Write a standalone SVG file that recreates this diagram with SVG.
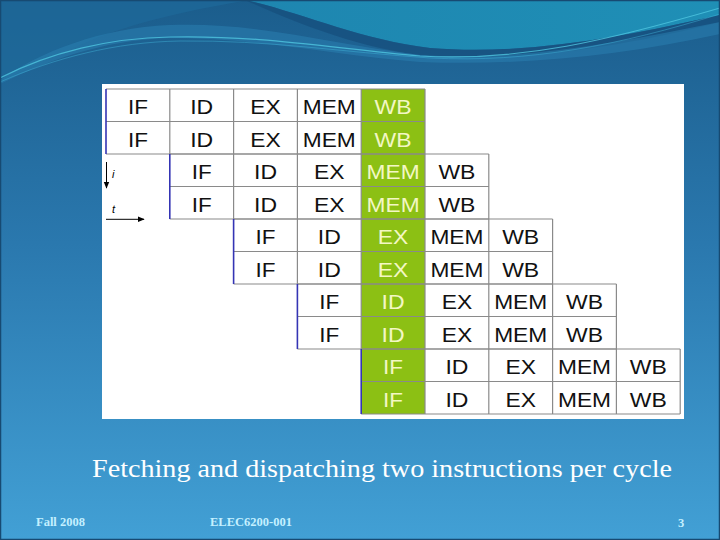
<svg xmlns="http://www.w3.org/2000/svg" width="720" height="540" viewBox="0 0 720 540">
<defs>
<linearGradient id="bg" x1="0" y1="0" x2="0" y2="1">
<stop offset="0" stop-color="#1b5d8c"/>
<stop offset="0.45" stop-color="#2a78ae"/>
<stop offset="1" stop-color="#42a0d5"/>
</linearGradient>
<linearGradient id="teal" x1="0" y1="0" x2="1" y2="0">
<stop offset="0" stop-color="#1e86b0"/>
<stop offset="1" stop-color="#1f8fb6"/>
</linearGradient>
<marker id="ah" viewBox="0 0 10 10" refX="9" refY="5" markerWidth="7" markerHeight="7" orient="auto" markerUnits="userSpaceOnUse">
<path d="M0,1 L10,5 L0,9 Z" fill="#000"/>
</marker>
<style>
.cell{font-family:"Liberation Sans",Arial,sans-serif;font-size:21px;text-anchor:middle;fill:#111}
.g{fill:#f3f7c4}
.ln{stroke:#8a8a8a;stroke-width:1.2;fill:none}
.bl{stroke:#3434b4;stroke-width:1.6;fill:none}
.foot{font-family:"Liberation Serif",serif;font-size:12.5px;font-weight:bold;fill:#c4f0ff}
.ax{font-family:"Liberation Sans",Arial,sans-serif;font-size:11px;font-style:italic;fill:#000}
</style>
</defs>
<g id="background">
<rect x="0" y="0" width="720" height="540" fill="url(#bg)"/>
<path d="M0,0 L250,0 C200,8 130,22 80,45 C50,58 20,72 0,82 Z" fill="#1e6a9a" opacity="0.7"/>
<path d="M245,0 C300,12 360,40 430,48 C530,56 630,35 720,15 L720,0 Z" fill="url(#teal)"/>
<path d="M245,0 C300,12 360,40 430,48 C530,56 630,35 720,15 L720,22 C630,45 530,62 430,56 C360,50 290,20 245,0 Z" fill="#17507e" opacity="0.8"/>
<path d="M0,80 C40,52 100,28 170,25 C260,22 330,44 420,55 C520,62 620,42 720,22 L720,34 C620,56 520,66 420,62 C330,55 260,38 170,38 C100,40 45,62 0,84 Z" fill="#2a7fb0" opacity="0.55"/>
<path d="M0,78 C50,52 110,38 170,37 C260,35 330,48 420,56 C520,62 610,40 720,8" fill="none" stroke="#4fc6e0" stroke-width="1.2" opacity="0.8"/>
<path d="M0,82 C55,58 115,42 180,41 C270,40 340,52 430,58 C530,63 620,45 720,14" fill="none" stroke="#3fb2d6" stroke-width="0.8" opacity="0.6"/>
<rect x="0.5" y="0.5" width="719" height="539" fill="none" stroke="#174a72" stroke-width="1.5"/>
</g>
<rect id="panel" x="102" y="84" width="582" height="335" fill="#ffffff"/>
<g id="green-column">
<rect x="361.2" y="89" width="63.8" height="325" fill="#8cc014"/>
</g>
<g id="grid">
<path class="ln" d="M106,89 H425 M106,121.5 H425 M106,154 H425 M169.8,89 V154 M233.6,89 V154 M297.4,89 V154 M361.2,89 V154 M425,89 V154"/>
<path class="bl" d="M106,89 V154"/>
<path class="ln" d="M169.8,154 H488.8 M169.8,186.5 H488.8 M169.8,219 H488.8 M233.6,154 V219 M297.4,154 V219 M361.2,154 V219 M425,154 V219 M488.8,154 V219"/>
<path class="bl" d="M169.8,154 V219"/>
<path class="ln" d="M233.6,219 H552.6 M233.6,251.5 H552.6 M233.6,284 H552.6 M297.4,219 V284 M361.2,219 V284 M425,219 V284 M488.8,219 V284 M552.6,219 V284"/>
<path class="bl" d="M233.6,219 V284"/>
<path class="ln" d="M297.4,284 H616.4 M297.4,316.5 H616.4 M297.4,349 H616.4 M361.2,284 V349 M425,284 V349 M488.8,284 V349 M552.6,284 V349 M616.4,284 V349"/>
<path class="bl" d="M297.4,284 V349"/>
<path class="ln" d="M361.2,349 H680.2 M361.2,381.5 H680.2 M361.2,414 H680.2 M425,349 V414 M488.8,349 V414 M552.6,349 V414 M616.4,349 V414 M680.2,349 V414"/>
<path class="bl" d="M361.2,349 V414"/>
</g>
<g id="stages">
<g id="row1">
<text class="cell" x="137.9" y="114" textLength="20" lengthAdjust="spacingAndGlyphs">IF</text>
<text class="cell" x="201.7" y="114" textLength="23" lengthAdjust="spacingAndGlyphs">ID</text>
<text class="cell" x="265.5" y="114" textLength="30.5" lengthAdjust="spacingAndGlyphs">EX</text>
<text class="cell" x="329.3" y="114" textLength="53" lengthAdjust="spacingAndGlyphs">MEM</text>
<text class="cell g" x="393.1" y="114" textLength="37" lengthAdjust="spacingAndGlyphs">WB</text>
</g>
<g id="row2">
<text class="cell" x="137.9" y="146.5" textLength="20" lengthAdjust="spacingAndGlyphs">IF</text>
<text class="cell" x="201.7" y="146.5" textLength="23" lengthAdjust="spacingAndGlyphs">ID</text>
<text class="cell" x="265.5" y="146.5" textLength="30.5" lengthAdjust="spacingAndGlyphs">EX</text>
<text class="cell" x="329.3" y="146.5" textLength="53" lengthAdjust="spacingAndGlyphs">MEM</text>
<text class="cell g" x="393.1" y="146.5" textLength="37" lengthAdjust="spacingAndGlyphs">WB</text>
</g>
<g id="row3">
<text class="cell" x="201.7" y="179" textLength="20" lengthAdjust="spacingAndGlyphs">IF</text>
<text class="cell" x="265.5" y="179" textLength="23" lengthAdjust="spacingAndGlyphs">ID</text>
<text class="cell" x="329.3" y="179" textLength="30.5" lengthAdjust="spacingAndGlyphs">EX</text>
<text class="cell g" x="393.1" y="179" textLength="53" lengthAdjust="spacingAndGlyphs">MEM</text>
<text class="cell" x="456.9" y="179" textLength="37" lengthAdjust="spacingAndGlyphs">WB</text>
</g>
<g id="row4">
<text class="cell" x="201.7" y="211.5" textLength="20" lengthAdjust="spacingAndGlyphs">IF</text>
<text class="cell" x="265.5" y="211.5" textLength="23" lengthAdjust="spacingAndGlyphs">ID</text>
<text class="cell" x="329.3" y="211.5" textLength="30.5" lengthAdjust="spacingAndGlyphs">EX</text>
<text class="cell g" x="393.1" y="211.5" textLength="53" lengthAdjust="spacingAndGlyphs">MEM</text>
<text class="cell" x="456.9" y="211.5" textLength="37" lengthAdjust="spacingAndGlyphs">WB</text>
</g>
<g id="row5">
<text class="cell" x="265.5" y="244" textLength="20" lengthAdjust="spacingAndGlyphs">IF</text>
<text class="cell" x="329.3" y="244" textLength="23" lengthAdjust="spacingAndGlyphs">ID</text>
<text class="cell g" x="393.1" y="244" textLength="30.5" lengthAdjust="spacingAndGlyphs">EX</text>
<text class="cell" x="456.9" y="244" textLength="53" lengthAdjust="spacingAndGlyphs">MEM</text>
<text class="cell" x="520.7" y="244" textLength="37" lengthAdjust="spacingAndGlyphs">WB</text>
</g>
<g id="row6">
<text class="cell" x="265.5" y="276.5" textLength="20" lengthAdjust="spacingAndGlyphs">IF</text>
<text class="cell" x="329.3" y="276.5" textLength="23" lengthAdjust="spacingAndGlyphs">ID</text>
<text class="cell g" x="393.1" y="276.5" textLength="30.5" lengthAdjust="spacingAndGlyphs">EX</text>
<text class="cell" x="456.9" y="276.5" textLength="53" lengthAdjust="spacingAndGlyphs">MEM</text>
<text class="cell" x="520.7" y="276.5" textLength="37" lengthAdjust="spacingAndGlyphs">WB</text>
</g>
<g id="row7">
<text class="cell" x="329.3" y="309" textLength="20" lengthAdjust="spacingAndGlyphs">IF</text>
<text class="cell g" x="393.1" y="309" textLength="23" lengthAdjust="spacingAndGlyphs">ID</text>
<text class="cell" x="456.9" y="309" textLength="30.5" lengthAdjust="spacingAndGlyphs">EX</text>
<text class="cell" x="520.7" y="309" textLength="53" lengthAdjust="spacingAndGlyphs">MEM</text>
<text class="cell" x="584.5" y="309" textLength="37" lengthAdjust="spacingAndGlyphs">WB</text>
</g>
<g id="row8">
<text class="cell" x="329.3" y="341.5" textLength="20" lengthAdjust="spacingAndGlyphs">IF</text>
<text class="cell g" x="393.1" y="341.5" textLength="23" lengthAdjust="spacingAndGlyphs">ID</text>
<text class="cell" x="456.9" y="341.5" textLength="30.5" lengthAdjust="spacingAndGlyphs">EX</text>
<text class="cell" x="520.7" y="341.5" textLength="53" lengthAdjust="spacingAndGlyphs">MEM</text>
<text class="cell" x="584.5" y="341.5" textLength="37" lengthAdjust="spacingAndGlyphs">WB</text>
</g>
<g id="row9">
<text class="cell g" x="393.1" y="374" textLength="20" lengthAdjust="spacingAndGlyphs">IF</text>
<text class="cell" x="456.9" y="374" textLength="23" lengthAdjust="spacingAndGlyphs">ID</text>
<text class="cell" x="520.7" y="374" textLength="30.5" lengthAdjust="spacingAndGlyphs">EX</text>
<text class="cell" x="584.5" y="374" textLength="53" lengthAdjust="spacingAndGlyphs">MEM</text>
<text class="cell" x="648.3" y="374" textLength="37" lengthAdjust="spacingAndGlyphs">WB</text>
</g>
<g id="row10">
<text class="cell g" x="393.1" y="406.5" textLength="20" lengthAdjust="spacingAndGlyphs">IF</text>
<text class="cell" x="456.9" y="406.5" textLength="23" lengthAdjust="spacingAndGlyphs">ID</text>
<text class="cell" x="520.7" y="406.5" textLength="30.5" lengthAdjust="spacingAndGlyphs">EX</text>
<text class="cell" x="584.5" y="406.5" textLength="53" lengthAdjust="spacingAndGlyphs">MEM</text>
<text class="cell" x="648.3" y="406.5" textLength="37" lengthAdjust="spacingAndGlyphs">WB</text>
</g>
</g>
<g id="axes">
<line x1="106.5" y1="162" x2="106.5" y2="188" stroke="#000" stroke-width="1" marker-end="url(#ah)"/>
<line x1="106" y1="219.3" x2="144" y2="219.3" stroke="#000" stroke-width="1" marker-end="url(#ah)"/>
<text class="ax" x="112" y="178">i</text>
<text class="ax" x="112" y="213">t</text>
</g>
<text id="caption" x="92" y="477" font-family="'Liberation Serif',serif" font-size="26" fill="#ffffff" textLength="580" lengthAdjust="spacingAndGlyphs">Fetching and dispatching two instructions per cycle</text>
<g id="footer">
<text class="foot" x="36" y="526">Fall 2008</text>
<text class="foot" x="210" y="526">ELEC6200-001</text>
<text class="foot" x="678" y="527">3</text>
</g>
</svg>
